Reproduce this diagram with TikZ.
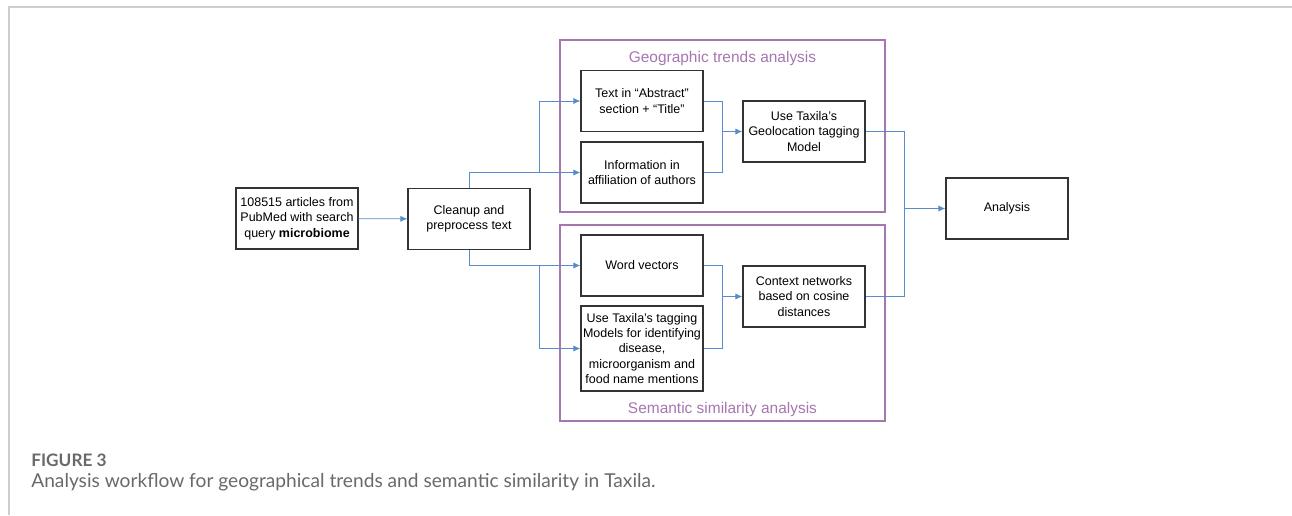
\documentclass[tikz,border=0pt]{standalone}
\usepackage{fontspec}
\setmainfont{Liberation Sans}
\newfontfamily\capfont{Lato}
\usetikzlibrary{positioning,calc,arrows.meta}
\definecolor{frameP}{RGB}{166,118,176}
\definecolor{flowB}{RGB}{88,140,204}
\definecolor{edgeG}{RGB}{205,205,205}
\definecolor{capG}{RGB}{105,105,105}

\begin{document}
\begin{tikzpicture}
  [x=0.02cm,y=-0.02cm,
   boxN/.style={draw=black!80,line width=0.7pt,minimum width=2.44cm,minimum height=1.22cm,
                align=center,inner sep=1pt,font=\fontsize{7.1}{8.8}\selectfont},
   groupN/.style={draw=frameP,line width=1.1pt,minimum width=6.5cm},
   groupT/.style={text=frameP,font=\fontsize{8.8}{10}\selectfont},
   flow/.style={draw=flowB,line width=0.5pt},
   flowA/.style={flow,-{Latex[length=4pt,width=3.5pt]}},
   capN/.style={anchor=base west,inner sep=0pt,text=capG},
  ]
 \useasboundingbox (0,0) rectangle (1292,515);
 \draw[edgeG,line width=1pt] (9,515) -- (9,7) -- (1292,7);

 % frames
 \node[groupN,minimum height=3.44cm] (geoF) at (722.5,126) {};
 \node[groupN,minimum height=3.92cm] (semF) at (722.5,323) {};
 \node[groupT] (geoT) at (722.5,58) {Geographic trends analysis};
 \node[groupT] (semT) at (722.5,409) {Semantic similarity analysis};

 % boxes
 \node[boxN] (src) at (297,218.5) {108515 articles from\\PubMed with search\\query \textbf{microbiome}};
 \node[boxN] (clean) at (469,219) {Cleanup and\\preprocess text};
 \node[boxN] (abs) at (642,101) {Text in “Abstract”\\section + “Title”};
 \node[boxN] (aff) at (642,172.5) {Information in\\affiliation of authors};
 \node[boxN] (geo) at (804,131.5) {Use Taxila’s\\Geolocation tagging\\Model};
 \node[boxN] (vec) at (642,265.5) {Word vectors};
 \node[boxN,minimum height=1.7cm] (tag) at (642,348.5) {Use Taxila’s tagging\\Models for identifying\\disease,\\microorganism and\\food name mentions};
 \node[boxN] (ctx) at (804,296.5) {Context networks\\based on cosine\\distances};
 \node[boxN] (ana) at (1007,208.5) {Analysis};

 % connectors
 \coordinate (jG) at ($(aff.west)+(-41,0)$);
 \coordinate (jS) at ($(vec.west)+(-41,0)$);
 \coordinate (mG) at ($(geo.west)+(-20,0)$);
 \coordinate (mS) at ($(ctx.west)+(-20,0)$);
 \coordinate (mA) at ($(ana.west)+(-41,0)$);

 \draw[flowA] (src) -- (clean);
 \draw[flowA] (clean.north) |- (aff.west);
 \draw[flowA] (jG) |- (abs.west);
 \draw[flowA] (clean.south) |- (vec.west);
 \draw[flowA] (jS) |- (tag.west);

 \draw[flow] (abs.east) -| (mG);
 \draw[flow] (aff.east) -| (mG);
 \draw[flowA] (mG) -- (geo.west);
 \draw[flow] (vec.east) -| (mS);
 \draw[flow] (tag.east) -| (mS);
 \draw[flowA] (mS) -- (ctx.west);

 \draw[flow] (geo.east) -| (mA);
 \draw[flow] (ctx.east) -| (mA);
 \draw[flowA] (mA) -- (ana.west);

 % caption
 \node[capN,font=\capfont\bfseries\fontsize{9.8}{11}\selectfont] (figL) at (31,466) {FIGURE 3};
 \node[capN,font=\capfont\fontsize{10.9}{12}\selectfont] (figC) at (31,487)
   {Analysis workflow for geographical trends and semantic similarity in Taxila.};
\end{tikzpicture}
\end{document}
